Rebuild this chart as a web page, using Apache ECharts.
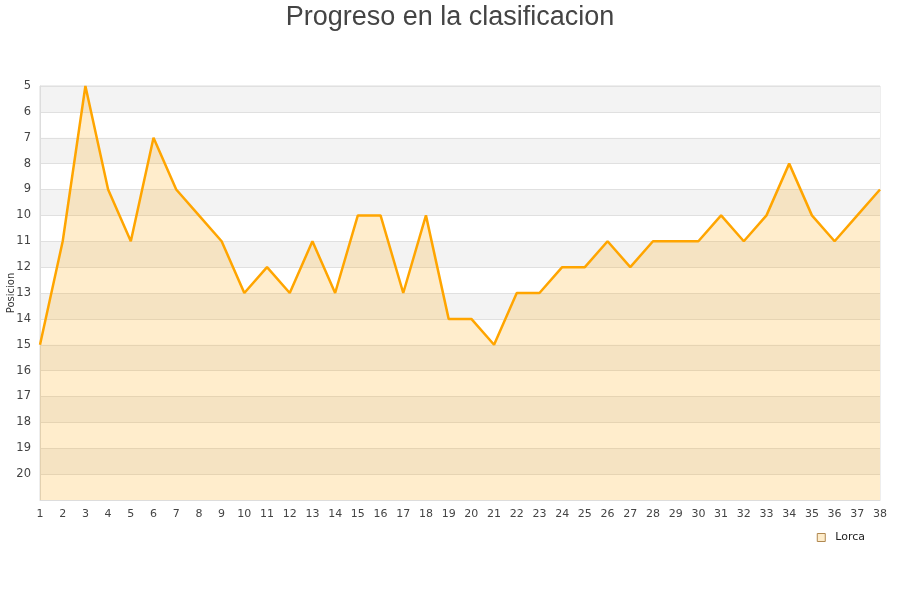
<!DOCTYPE html>
<html>
<head>
<meta charset="utf-8">
<script src="https://cdn.jsdelivr.net/npm/echarts@6/dist/echarts.min.js"></script>
<style>html,body{margin:0;padding:0;background:#fff}#c{width:900px;height:600px}</style>
</head>
<body>
<div id="c"></div>
<script>
const jornadas = ['1','2','3','4','5','6','7','8','9','10','11','12','13','14','15','16','17','18','19','20','21','22','23','24','25','26','27','28','29','30','31','32','33','34','35','36','37','38'];
const posicionLorca = [15,11,5,9,11,7,9,10,11,13,12,13,11,13,10,10,13,10,14,14,15,13,13,12,12,11,12,11,11,11,10,11,10,8,10,11,10,9];
const seriesName = 'Lorca';
const titleText = 'Progreso en la clasificacion';
const yAxisName = 'Posicion';

const chart = echarts.init(document.getElementById('c'), null, {renderer: 'canvas'});
chart.setOption({
  animation: false,
  backgroundColor: '#ffffff',
  title: {
    text: titleText, left: 'center', top: -1,
    textStyle: {fontFamily: 'Liberation Sans, Arial, sans-serif', fontSize: 27, fontWeight: 'normal', color: '#444444'}
  },
  legend: {
    data: [seriesName], right: 30, top: 527, icon: 'rect', itemWidth: 8, itemHeight: 8, itemGap: 6,
    itemStyle: {color: '#fdeccb', borderColor: '#b08850', borderWidth: 1},
    textStyle: {fontFamily: 'DejaVu Sans', fontSize: 11, color: '#222', padding: [0, 0, 0, 5]}
  },
  grid: {left: 40, right: 20, top: 86, bottom: 100, outerBoundsMode: 'none', containLabel: false,
    show: true, borderColor: '#dddddd', borderWidth: 1},
  xAxis: {
    type: 'category', data: jornadas, boundaryGap: false,
    axisLine: {show: true, lineStyle: {color: '#dddddd'}},
    axisTick: {show: false},
    axisLabel: {color: '#444', fontFamily: 'DejaVu Sans', fontSize: 11, margin: 9, interval: 0},
    splitLine: {show: false}
  },
  yAxis: {
    type: 'value', inverse: true, min: 5, max: 21, interval: 1,
    name: yAxisName, nameLocation: 'middle', nameRotate: 90, nameGap: 24, nameMoveOverlap: false,
    nameTextStyle: {fontFamily: 'DejaVu Sans', fontSize: 10, color: '#333'},
    axisLine: {show: true, lineStyle: {color: '#dddddd'}},
    axisTick: {show: false},
    axisLabel: {color: '#444', fontFamily: 'DejaVu Sans', fontSize: 11.5, margin: 9, showMaxLabel: false,
      formatter: v => v === 21 ? '' : String(v)},
    splitLine: {show: true, lineStyle: {color: '#e0e0e0', width: 1}},
    splitArea: {show: true, areaStyle: {color: ['#f3f3f3', '#ffffff']}}
  },
  series: [{
    name: seriesName, type: 'line', data: posicionLorca,
    showSymbol: false, symbol: 'none',
    lineStyle: {color: '#FFA500', width: 2.5},
    itemStyle: {color: '#FFA500'},
    areaStyle: {color: 'rgba(255,165,0,0.2)', opacity: 1, origin: 'end'}
  }]
});
</script>
</body>
</html>
